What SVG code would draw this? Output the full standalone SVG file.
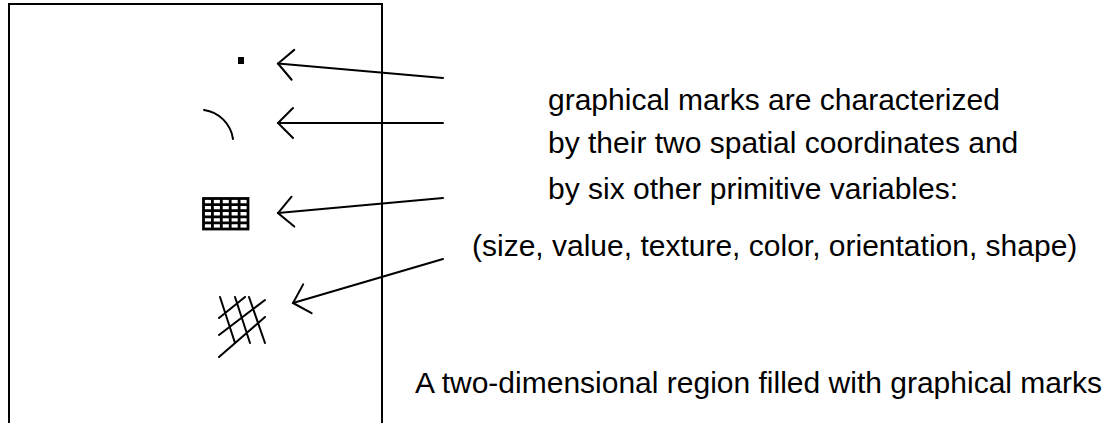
<svg xmlns="http://www.w3.org/2000/svg" width="1111" height="423" viewBox="0 0 1111 423">
<style>
  .ln { fill: none; stroke: #000; stroke-width: 2; stroke-linecap: round; }
  .tx { font-family: "Liberation Sans", Arial, sans-serif; font-size: 30px; fill: #000; }
</style>
<defs>
  <marker id="open" markerUnits="userSpaceOnUse" markerWidth="40" markerHeight="40" viewBox="-20 -20 40 40" refX="0" refY="0" orient="auto" overflow="visible">
    <path d="M-15,-15 L0,0 L-15,15" fill="none" stroke="#000" stroke-width="2" stroke-linecap="round"/>
  </marker>
</defs>
<rect width="1111" height="423" fill="#fff"/>
<g id="region">
  <path class="ln" d="M9,440 V4 H382 V440" stroke-linecap="butt"/>
</g>
<g id="mark-point">
  <rect x="238" y="57" width="6" height="7" fill="#000"/>
</g>
<g id="mark-line">
  <path class="ln" d="M204,110 A34,34 0 0 1 233,139" stroke-width="2.3"/>
</g>
<g id="mark-grid" stroke="#000" stroke-width="2.8" fill="none">
  <rect x="203.5" y="198.5" width="44.5" height="30.5"/>
  <path d="M212.4,198.5V229 M221.3,198.5V229 M230.2,198.5V229 M239.1,198.5V229 M203.5,204.6H248 M203.5,210.7H248 M203.5,216.8H248 M203.5,222.9H248"/>
</g>
<g id="mark-hatch" class="ln" stroke-width="2.4">
  <path d="M220,297 L235,343 M235,297 L250,343 M249,297 L265,343 M219,318 L245,297 M219,335 L265,300 M219,357 L265,317"/>
</g>
<g id="connectors" class="ln">
  <path d="M443,78 L278,63.5" marker-end="url(#open)"/>
  <path d="M443,123 L278,123" marker-end="url(#open)"/>
  <path d="M443,198 L278,213" marker-end="url(#open)"/>
  <path d="M443,259 L293,303" marker-end="url(#open)"/>
</g>
<g id="labels" class="tx">
  <text x="548" y="110">graphical marks are characterized</text>
  <text x="548" y="153">by their two spatial coordinates and</text>
  <text x="548" y="199">by six other primitive variables:</text>
  <text x="472" y="256">(size, value, texture, color, orientation, shape)</text>
  <text x="415" y="393">A two-dimensional region filled with graphical marks</text>
</g>
</svg>
